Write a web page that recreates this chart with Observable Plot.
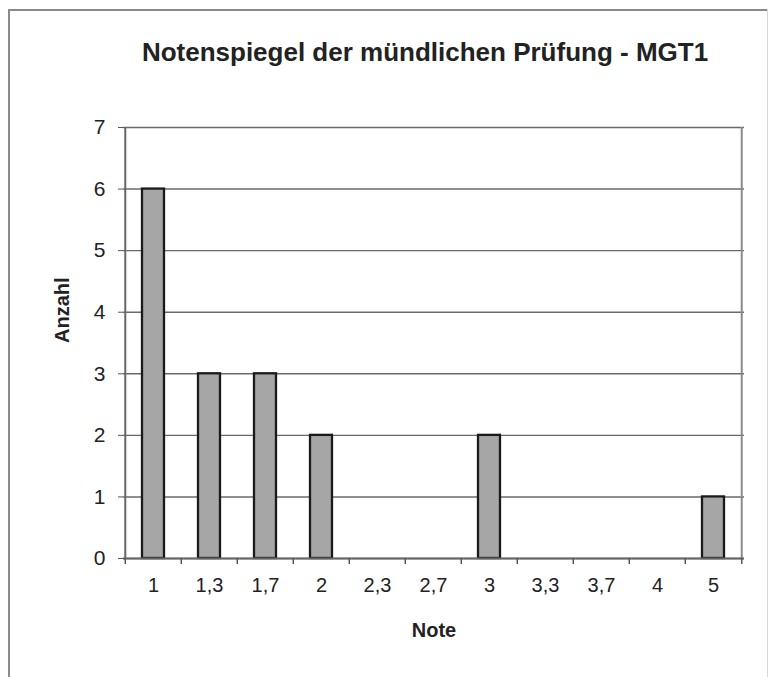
<!DOCTYPE html>
<html>
<head>
<meta charset="utf-8">
<script src="https://cdn.jsdelivr.net/npm/d3@7"></script>
<script src="https://cdn.jsdelivr.net/npm/@observablehq/plot@0.6"></script>
<style>
  html, body { margin: 0; padding: 0; background: #fff; }
  #wrap { position: relative; width: 771px; height: 677px; overflow: hidden; font-family: "Liberation Sans", Arial, sans-serif; }
  #frameTop { position: absolute; left: 8px; top: 9px; width: 760px; height: 0; border-top: 2px solid #8a8a8a; }
  #frameLeft { position: absolute; left: 8px; top: 9px; width: 0; height: 668px; border-left: 2px solid #8a8a8a; }
  #frameRight { position: absolute; left: 767px; top: 9px; width: 0; height: 668px; border-left: 1px solid #d8d8d8; }
  #title { position: absolute; left: 0; top: 36px; width: 850px; text-align: center; font-size: 26px; font-weight: bold; color: #222; line-height: 32px; }
  #chart { position: absolute; left: 0; top: 100px; }
</style>
</head>
<body>
<div id="wrap">
  <div id="frameTop"></div>
  <div id="frameLeft"></div>
  <div id="frameRight"></div>
  <div id="title">Notenspiegel der mündlichen Prüfung - MGT1</div>
  <div id="chart"></div>
</div>
<script>
const categories = ["1", "1,3", "1,7", "2", "2,3", "2,7", "3", "3,3", "3,7", "4", "5"];
const counts = [6, 3, 3, 2, 0, 0, 2, 0, 0, 0, 1];
const yTicks = [0, 1, 2, 3, 4, 5, 6, 7];
const xLabel = "Note";
const yLabel = "Anzahl";

const data = categories.map((c, i) => ({note: c, n: counts[i]}));

const W = 771, H = 577;
const mL = 123, mR = 27, mT = 27, mB = 119;
const step = (W - mL - mR) / categories.length;
const last = categories[categories.length - 1];

const plot = Plot.plot({
  width: W,
  height: H,
  marginLeft: mL,
  marginRight: mR,
  marginTop: mT,
  marginBottom: mB,
  style: {fontFamily: "'Liberation Sans', Arial, sans-serif", fontSize: "21px", color: "#222", background: "transparent"},
  x: {type: "band", domain: categories, paddingInner: 0.6, paddingOuter: 0.3, label: null},
  y: {domain: [0, 7], label: null},
  marks: [
    Plot.ruleY(yTicks, {stroke: "#6a6a6a", strokeWidth: 1.4}),
    Plot.ruleX([last], {stroke: "#8a8a8a", strokeWidth: 2, dx: step / 2, y1: 7, y2: 0}),
    Plot.barY(data, {x: "note", y: "n", fill: "#a6a6a6", stroke: "#1a1a1a", strokeWidth: 2.3}),
    Plot.ruleX([categories[0]], {stroke: "#666", strokeWidth: 2, dx: -step / 2, y1: 7, y2: 0}),
    Plot.ruleY([0], {stroke: "#666", strokeWidth: 2}),
    Plot.ruleX(categories, {x: d => d, y1: 0, y2: 0, insetBottom: -6, dx: -step / 2, stroke: "#555", strokeWidth: 1.5}),
    Plot.ruleX([last], {x: d => d, y1: 0, y2: 0, insetBottom: -6, dx: step / 2, stroke: "#555", strokeWidth: 1.5}),
    Plot.axisY({ticks: yTicks, tickFormat: d3.format("d"), tickSize: 5, tickPadding: 13, stroke: "#555", fontSize: 21, fill: "#222", label: null}),
    Plot.axisX({tickSize: 0, tickPadding: 19, fontSize: 20, fill: "#222", label: null}),
    Plot.text([xLabel], {frameAnchor: "bottom", dy: 78, text: d => d, fontWeight: "bold", fontSize: 20, fill: "#222"}),
    Plot.text([yLabel], {frameAnchor: "left", dx: -61, rotate: -90, text: d => d, fontWeight: "bold", fontSize: 20, fill: "#222"})
  ]
});
document.getElementById("chart").appendChild(plot);
</script>
</body>
</html>
